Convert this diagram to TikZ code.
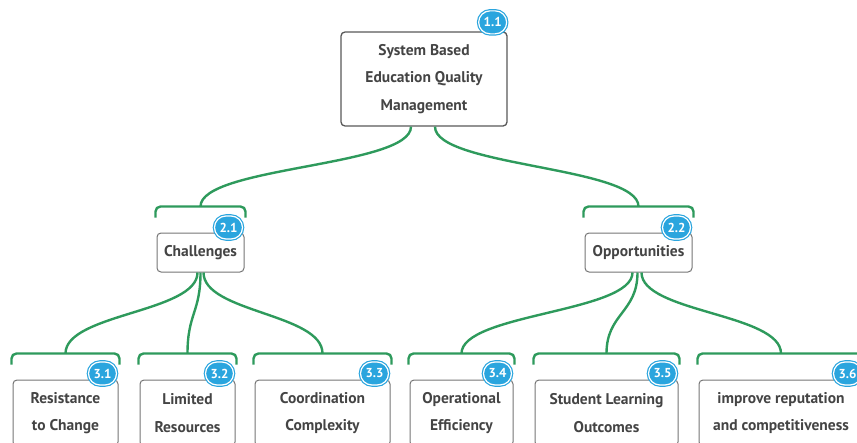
\documentclass[tikz,border=0pt]{standalone}
\usepackage{fontspec}
\setmainfont{PT Sans}
\definecolor{linkgreen}{HTML}{2E9A5C}
\definecolor{tagblue}{HTML}{2AA5DE}
\definecolor{boxgray}{HTML}{767676}
\definecolor{inkgray}{HTML}{444444}

\begin{document}
\begin{tikzpicture}[x=1pt, y=-1pt,
    topic/.style={draw=boxgray, line width=1pt, rounded corners=4pt, fill=white,
      text=inkgray, align=center, inner sep=0pt,
      font=\bfseries\fontsize{15.5}{27.5}\selectfont},
    root/.style={topic, draw=black!65, line width=1.3pt},
    leaf/.style={topic, minimum height=66pt},
    tag/.style={fill=tagblue, draw=white, line width=1.2pt, rounded corners=11.5pt,
      preaction={draw=tagblue, line width=3.6pt},
      minimum width=28pt, minimum height=23pt, inner sep=0pt,
      text=white, font=\bfseries\fontsize{13}{13}\selectfont},
    link/.style={draw=linkgreen, line width=2.4pt},
    hook/.style={link, rounded corners=5pt}]
  \useasboundingbox (0,0) rectangle (857,442);
  \clip (0,0) rectangle (857,442);

  % root and the two branches
  \node[root, minimum width=166pt, minimum height=94pt] (sys) at (424,79)
    {System Based\\Education Quality\\Management};
  \node[tag] (sys-tag) at ([shift={(-15,-9)}]sys.north east) {1.1};
  \node[topic, minimum width=87pt, minimum height=39pt] (chal) at (200.5,252.5) {Challenges};
  \node[topic, minimum width=107pt, minimum height=39pt] (opp) at (638.5,252.5) {Opportunities};

  \foreach \n/\d/\k in {chal/-13/2.1, opp/11/2.2} {
    \draw[hook] ([shift={(-1,-15)}]\n.north west) -- ++(0,-11) -| ([shift={(1,-15)}]\n.north east);
    \coordinate (\n-in) at ([shift={(0,-26)}]\n.north);
    \draw[link] ([shift={(\d,0)}]sys.south) .. controls +(0,40) and +(0,-40) .. (\n-in);
    \node[tag] (\n-tag) at ([shift={(-16,-5)}]\n.north east) {\k};
  }

  % leaves under each branch
  \foreach \n/\p/\d/\x/\w/\k/\t in {
      res/chal/-3/65.5/105/3.1/{Resistance\\to Change},
      lim/chal/0/187.5/95/3.2/{Limited\\Resources},
      coo/chal/3/322.5/135/3.3/{Coordination\\Complexity},
      ope/opp/-6/461.5/103/3.4/{Operational\\Efficiency},
      stu/opp/-1/606.5/143/3.5/{Student Learning\\Outcomes},
      rep/opp/3/781/164/3.6/{improve reputation\\and competitiveness}} {
    \node[leaf, minimum width=\w pt] (\n) at (\x,413) {\t};
    \draw[hook] ([shift={(-1,-15)}]\n.north west) -- ++(0,-11) -| ([shift={(1,-15)}]\n.north east);
    \coordinate (\n-in) at ([shift={(0,-26)}]\n.north);
    \draw[link] ([shift={(\d,0)}]\p.south) .. controls +(0,40) and +(0,-40) .. (\n-in);
    \node[tag] (\n-tag) at ([shift={(-16,-6)}]\n.north east) {\k};
  }
\end{tikzpicture}
\end{document}
